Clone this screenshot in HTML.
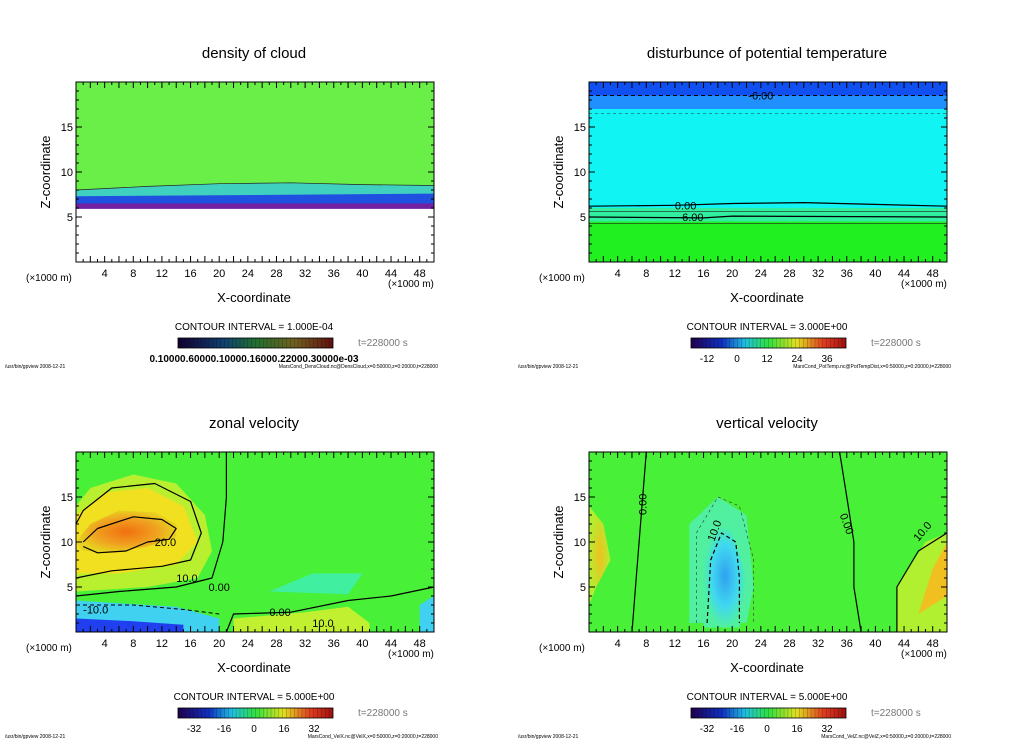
<!DOCTYPE html>
<html><head><meta charset="utf-8"><style>
body{margin:0;background:#fff;width:1024px;height:740px;overflow:hidden;font-family:"Liberation Sans",sans-serif}
svg text{font-family:"Liberation Sans",sans-serif}
</style></head><body>
<svg id="c" width="1024" height="740" xmlns="http://www.w3.org/2000/svg">
<defs>
<linearGradient id="cb" x1="0" x2="1" y1="0" y2="0">
<stop offset="0" stop-color="#200050"/><stop offset="0.2" stop-color="#1030c0"/><stop offset="0.35" stop-color="#20c0e0"/><stop offset="0.5" stop-color="#30e040"/><stop offset="0.68" stop-color="#e0e020"/><stop offset="0.85" stop-color="#e04020"/><stop offset="1" stop-color="#a01010"/>
</linearGradient>
<linearGradient id="cbd" x1="0" x2="1" y1="0" y2="0">
<stop offset="0" stop-color="#100030"/><stop offset="0.3" stop-color="#104070"/><stop offset="0.5" stop-color="#207030"/><stop offset="0.75" stop-color="#706020"/><stop offset="1" stop-color="#601010"/>
</linearGradient>
<radialGradient id="orng"><stop offset="0" stop-color="#f07010"/><stop offset="0.6" stop-color="#f0a020"/><stop offset="1" stop-color="#e8d020"/></radialGradient>
<radialGradient id="cyan"><stop offset="0" stop-color="#30a0f0"/><stop offset="0.6" stop-color="#40d8f0"/><stop offset="1" stop-color="#50f0a0"/></radialGradient>
<radialGradient id="yel"><stop offset="0" stop-color="#f0c020"/><stop offset="1" stop-color="#b0f030"/></radialGradient>
</defs>
</svg>
<script>
const xTicks=[4,8,12,16,20,24,28,32,36,40,44,48];
const zTicks=[5,10,15];
const panelTitles=["density of cloud","disturbunce of potential temperature","zonal velocity","vertical velocity"];
const intervals=["1.000E-04","3.000E+00","5.000E+00","5.000E+00"];
const cbLabels=[["0.10000.60000.10000.16000.22000.30000e-03"],["-12","0","12","24","36"],["-32","-16","0","16","32"],["-32","-16","0","16","32"]];
const footers=["MarsCond_DensCloud.nc@DensCloud,x=0:50000,z=0:20000,t=228000","MarsCond_PotTemp.nc@PotTempDist,x=0:50000,z=0:20000,t=228000","MarsCond_VelX.nc@VelX,x=0:50000,z=0:20000,t=228000","MarsCond_VelZ.nc@VelZ,x=0:50000,z=0:20000,t=228000"];
const cloudBand=[[0,6],[50,6],[50,8.5],[40,8.6],[30,8.8],[20,8.7],[10,8.4],[0,8]];
const tempTop=[[0,17],[50,17],[50,20],[0,20]];
const tempMid=[[0,6],[50,6],[50,17],[0,17]];
const tempLow=[[0,4.5],[50,4.5],[50,6],[0,6]];
const zonalBlob=[[0,10],[2,12],[6,13.5],[11,13.3],[14,12],[14,10.5],[10,9.5],[5,8.8],[1,9]];
const zonalWarm=[[0,5],[0,14],[2,16],[8,17.5],[14,16.5],[18,13],[19,9],[17,6],[10,5],[0,4.5]];
const zonalYellow=[[0,6.5],[0,13],[4,15.5],[10,16],[15,14],[17,10],[14,7.5],[6,6.5]];
const zonalCold=[[0,0],[0,3.5],[6,3.2],[14,2.8],[20,1.5],[20,0]];
const zonalBottom=[[22,0],[22,1.5],[32,2.2],[38,2.8],[41,1],[41,0]];
const solid10=[[0,6],[5,6.8],[12,7.3],[16,8],[17.5,11],[16,14.5],[11,16.5],[5,16],[1,13.5],[0,12]];
const contour20=[[1,10],[3,11.5],[8,12.8],[12,12.5],[14,11.5],[13,10.3],[10,10],[7,9],[3,8.8],[1,9.5]];
const zonal0=[[21,20],[21,15],[20.5,10],[19,6],[14,5],[6,4.5],[0,4]];
const vertCold=[[16,0.5],[16,9],[18,12],[20,11],[22,6],[21,0.5]];
const vertWarmR=[[43,0],[43,5],[47,10],[50,11],[50,0]];
const vertWarmL=[[0,3],[0,14],[2,12],[3,8],[1,5]];
const v0L=[[8,20],[7.5,15],[7,10],[6.5,5],[6,0]];
const v0R=[[35,20],[36,15],[37,10],[37,5],[38,0]];
const vDash=[[16.5,1],[17,8],[18.5,11],[20.5,10],[21,6],[21,1]];
const W=358,H=180;
const panels=[[76,82],[589,82],[76,452],[589,452]];
const svg=document.getElementById('c');
const NS="http://www.w3.org/2000/svg";
function el(t,a,p){const e=document.createElementNS(NS,t);for(const k in a)e.setAttribute(k,a[k]);(p||svg).appendChild(e);return e;}
function txt(s,a,p){const e=el('text',a,p);e.textContent=s;return e;}
function sx(o,x){return o[0]+x/50*W;}
function sz(o,z){return o[1]+H-z/20*H;}
function pts(o,arr){return arr.map(p=>sx(o,p[0]).toFixed(1)+','+sz(o,p[1]).toFixed(1)).join(' ');}
function poly(o,arr,fill,name){const e=el('polygon',{points:pts(o,arr),fill:fill});

return e;}
function line(o,arr,st,w,dash,name){const a={points:pts(o,arr),fill:'none',stroke:st,'stroke-width':w,'stroke-linejoin':'round'};if(dash)a['stroke-dasharray']=dash;const e=el('polyline',a);

return e;}
panels.forEach((o,i)=>{
 const bg=['#6aee48','#20f020','#48f038','#48f038'][i];
 const r=el('rect',{x:o[0],y:o[1],width:W,height:H,fill:bg});
 
 
 if(i==0){
  el('rect',{x:o[0],y:sz(o,6),width:W,height:sz(o,0)-sz(o,6),fill:'#fff'});
  poly(o,cloudBand,'#40d0c0','cloud-band');
  poly(o,[[0,6.5],[50,6.5],[50,7.6],[0,7.3]],'#2050e0','cloud-band-dense');
  poly(o,[[0,5.9],[50,5.9],[50,6.5],[0,6.5]],'#7020a0','cloud-base');
  line(o,[[0,8],[10,8.4],[20,8.7],[30,8.8],[40,8.6],[50,8.5]],'#222',0.7,null,'cloud-contour');
 }else if(i==1){
  poly(o,tempMid,'#10f4f4','temp-cyan');
  poly(o,tempTop,'#2090ff','temp-top');
  poly(o,[[0,18.5],[50,18.5],[50,20],[0,20]],'#1050f0','temp-top-dark');
  poly(o,tempLow,'#30f0a0','temp-transition');
  line(o,[[0,18.5],[50,18.5]],'#000',1,'4,3','contour-minus6');
  line(o,[[0,16.5],[50,16.5]],'#333',0.6,'3,3','contour-minus3');
  line(o,[[0,6.2],[12,6.3],[20,6.5],[30,6.6],[50,6.2]],'#000',1.2,null,'contour-0');
  line(o,[[0,5.6],[50,5.6]],'#222',0.6,null,'contour-3');
  line(o,[[0,5],[16,4.9],[20,5.1],[50,5]],'#000',1.2,null,'contour-6');
  line(o,[[0,4.3],[50,4.3]],'#222',0.6,null,'contour-9');
  txt('-6.00',{x:sx(o,24),y:sz(o,18.5)+4,'font-size':11,'text-anchor':'middle'});
  txt('0.00',{x:sx(o,12),y:sz(o,6.3)+4,'font-size':11});
  txt('6.00',{x:sx(o,13),y:sz(o,5)+4,'font-size':11});
 }else if(i==2){
  poly(o,zonalWarm,'#b8f030','zonal-warm');
  poly(o,zonalYellow,'#f0e020','zonal-yellow');
  poly(o,zonalBlob,'url(#orng)','zonal-max');
  poly(o,zonalCold,'#40d0f0','zonal-cold');
  poly(o,[[0,0],[0,1.5],[8,1.2],[15,0.8],[15,0]],'#2040f0','zonal-cold-core');
  poly(o,zonalBottom,'#c0f030','zonal-bottom-warm');
  poly(o,[[48,0],[48,3],[50,4],[50,0]],'#40d0f0','zonal-right-cold');
  poly(o,[[27,4.5],[33,6.5],[40,6.5],[38,4.2]],'#40f0a0','zonal-mid-cold');
  line(o,solid10,'#000',1.2,null,'contour-10');
  line(o,contour20,'#000',1.2,null,'contour-20');
  line(o,zonal0,'#000',1.2,null,'contour-0');
  line(o,[[21,0],[22,2],[30,2.2],[38,3.5],[44,4],[50,5]],'#000',1.2,null,'contour-0b');
  line(o,[[0,3],[8,3],[15,2.5],[20,2]],'#000',1,'4,3','contour-minus10');
  txt('20.0',{x:sx(o,11),y:sz(o,10)+4,'font-size':11});
  txt('10.0',{x:sx(o,14),y:sz(o,6)+4,'font-size':11});
  txt('0.00',{x:sx(o,18.5),y:sz(o,5)+4,'font-size':11});
  txt('0.00',{x:sx(o,27),y:sz(o,2.2)+4,'font-size':11});
  txt('-10.0',{x:sx(o,1),y:sz(o,2.5)+4,'font-size':11});
  txt('10.0',{x:sx(o,33),y:sz(o,1)+4,'font-size':11});
 }else{
  poly(o,vertWarmL,'url(#yel)','vert-warm-left');
  poly(o,vertWarmR,'#b0f030','vert-warm-right');
  poly(o,[[46,2],[48,7],[50,10],[50,4]],'#f0c020','vert-warm-core');
  poly(o,[[14,1],[14,12],[18,15],[22,13],[23,5],[22,1]],'#50f0a0','vert-cool');
  poly(o,vertCold,'url(#cyan)','vert-cold');
  line(o,v0L,'#000',1.2,null,'contour-0-left');
  line(o,v0R,'#000',1.2,null,'contour-0-right');
  line(o,vDash,'#000',1.2,'4,3','contour-minus10');
  line(o,[[15,1],[15,11],[18,15],[21,14],[23,8],[23,1]],'#333',0.6,'3,3','contour-minus5');
  line(o,[[43,0],[43,5],[46,9],[50,11]],'#000',1.2,null,'contour-10');
  txt('0.00',{x:sx(o,8),y:sz(o,13),'font-size':11,transform:`rotate(-90 ${sx(o,8)} ${sz(o,13)})`});
  txt('0.00',{x:sx(o,35),y:sz(o,13),'font-size':11,transform:`rotate(70 ${sx(o,35)} ${sz(o,13)})`});
  txt('10.0',{x:sx(o,17.5),y:sz(o,10),'font-size':11,transform:`rotate(-70 ${sx(o,17.5)} ${sz(o,10)})`});
  txt('10.0',{x:sx(o,46),y:sz(o,10),'font-size':11,transform:`rotate(-50 ${sx(o,46)} ${sz(o,10)})`});
 }
 const fr=el('rect',{x:o[0],y:o[1],width:W,height:H,fill:'none',stroke:'#000','stroke-width':1});
 
 
 for(let k=1;k<50;k++){const x=sx(o,k);const L=k%2==0?6:3;
  el('line',{x1:x,x2:x,y1:o[1]+H,y2:o[1]+H-L,stroke:'#000'});el('line',{x1:x,x2:x,y1:o[1],y2:o[1]+L,stroke:'#000'});}
 for(let k=1;k<20;k++){const y=sz(o,k);const L=k%5==0?6:3;
  el('line',{x1:o[0],x2:o[0]+L,y1:y,y2:y,stroke:'#000'});el('line',{x1:o[0]+W,x2:o[0]+W-L,y1:y,y2:y,stroke:'#000'});}
 xTicks.forEach(v=>{const t=txt(v,{x:sx(o,v),y:o[1]+H+15,'font-size':11,'text-anchor':'middle'});
  
  });
 zTicks.forEach(v=>{const t=txt(v,{x:o[0]-3,y:sz(o,v)+4,'font-size':11,'text-anchor':'end'});
  
  });
 const cx=o[0]+W/2-1;
 const ti=txt(panelTitles[i],{x:cx,y:o[1]-24,'font-size':15,'text-anchor':'middle'});
 
 
 const yl=txt('Z-coordinate',{x:0,y:0,'font-size':13,'text-anchor':'middle',transform:`translate(${o[0]-26} ${o[1]+H/2}) rotate(-90)`});
 
 
 txt('(×1000 m)',{x:o[0]-50,y:o[1]+H+19,'font-size':10});
 txt('(×1000 m)',{x:o[0]+W-46,y:o[1]+H+25,'font-size':10});
 const xl=txt('X-coordinate',{x:cx,y:o[1]+H+40,'font-size':13,'text-anchor':'middle'});
 
 
 txt('CONTOUR INTERVAL = '+intervals[i],{x:cx,y:o[1]+H+68,'font-size':10,'text-anchor':'middle'});
 const cb=el('rect',{x:o[0]+102,y:o[1]+H+76,width:155,height:10,fill:i==0?'url(#cbd)':'url(#cb)',stroke:'#000','stroke-width':0.8});
 
 
 for(let k=1;k<40;k++)el('line',{x1:o[0]+102+k*155/40,x2:o[0]+102+k*155/40,y1:o[1]+H+76,y2:o[1]+H+86,stroke:'rgba(0,0,0,0.35)','stroke-width':0.5});
 txt('t=228000 s',{x:o[0]+282,y:o[1]+H+84,'font-size':10,fill:'#777'});
 const labs=cbLabels[i];
 if(labs.length==1)txt(labs[0],{x:cx,y:o[1]+H+100,'font-size':10,'text-anchor':'middle','font-weight':'bold'});
 else labs.forEach((s,k)=>txt(s,{x:o[0]+118+k*30,y:o[1]+H+100,'font-size':10,'text-anchor':'middle'}));
 txt('/usr/bin/gpview   2008-12-21',{x:o[0]-71,y:o[1]+H+106,'font-size':5});
 txt(footers[i],{x:o[0]+W+4,y:o[1]+H+106,'font-size':5,'text-anchor':'end'});
});
</script>
</body></html>
